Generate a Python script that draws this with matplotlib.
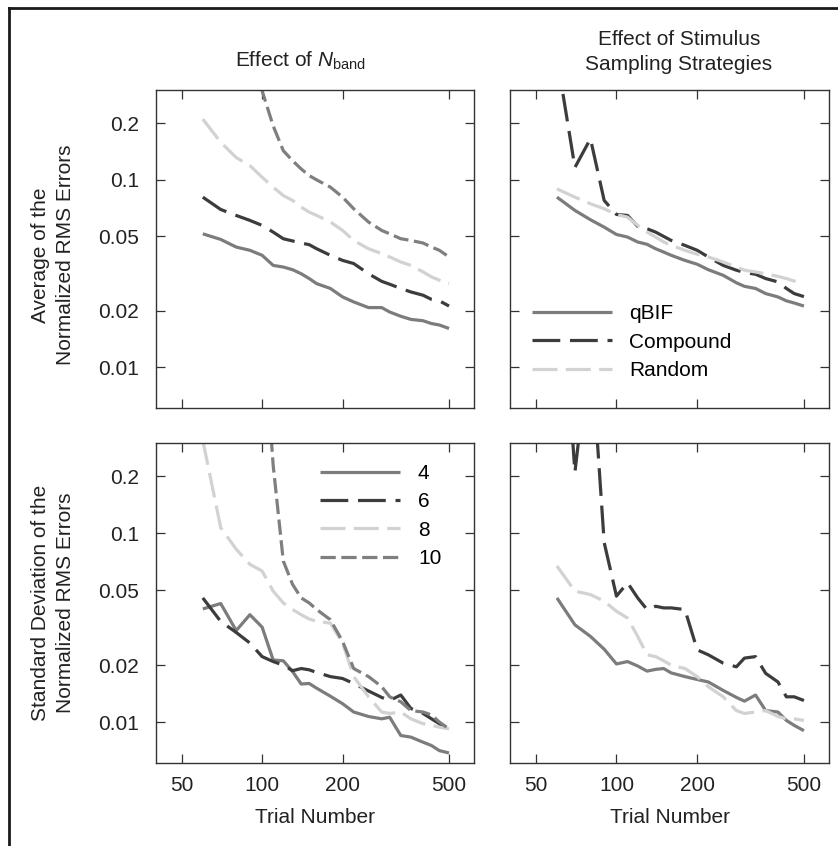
import numpy as np
import matplotlib
matplotlib.use("Agg")
import matplotlib.pyplot as plt
from matplotlib.lines import Line2D

plt.rcParams['font.family'] = ['Liberation Sans', 'DejaVu Sans']
plt.rcParams['mathtext.fontset'] = 'custom'
plt.rcParams['mathtext.rm'] = 'Liberation Sans'
plt.rcParams['mathtext.it'] = 'Liberation Sans:italic'
plt.rcParams['lines.scale_dashes'] = False

# data
trials = [60, 70, 80, 90, 100, 110, 120, 130, 140, 150, 160, 180, 200,
          220, 250, 280, 300, 330, 360, 400, 430, 460, 500]

# average of normalized RMS errors, effect of N_band
mean_4 = [0.0514, 0.0480, 0.0437, 0.0420, 0.0395, 0.0349, 0.0342, 0.0331, 0.0315, 0.0297, 0.0279, 0.0263,
          0.0237, 0.0223, 0.0208, 0.0208, 0.0197, 0.0187, 0.0180, 0.0177, 0.0171, 0.0168, 0.0161]
mean_6 = [0.0806, 0.0693, 0.0644, 0.0606, 0.0570, 0.0525, 0.0484, 0.0471, 0.0459, 0.0450, 0.0428, 0.0395,
          0.0371, 0.0357, 0.0315, 0.0287, 0.0277, 0.0263, 0.0252, 0.0242, 0.0230, 0.0226, 0.0212]
mean_8 = [0.210, 0.158, 0.131, 0.1187, 0.1029, 0.0911, 0.0822, 0.0774, 0.0713, 0.0671, 0.0644, 0.0594,
          0.0536, 0.0474, 0.0428, 0.0403, 0.0387, 0.0364, 0.0349, 0.0322, 0.0303, 0.0291, 0.0279]
mean_10 = [0.9, 0.65, 0.5, 0.38, 0.297, 0.193, 0.1426, 0.126, 0.1139, 0.1050, 0.0996, 0.0911,
           0.0806, 0.0699, 0.0594, 0.0536, 0.0514, 0.0484, 0.0474, 0.0459, 0.0437, 0.0420, 0.0387]

# average, sampling strategies
mean_qbif = [0.0806, 0.0685, 0.0611, 0.0558, 0.0510, 0.0494, 0.0465, 0.0452, 0.0428, 0.0411, 0.0395, 0.0371,
             0.0354, 0.0331, 0.0309, 0.0282, 0.0270, 0.0263, 0.0247, 0.0237, 0.0226, 0.0220, 0.0212]
mean_compound = [0.45, 0.116, 0.165, 0.0774, 0.0652, 0.0644, 0.0563, 0.0547, 0.0525, 0.0498, 0.0474, 0.0446,
                 0.0420, 0.0387, 0.0349, 0.0329, 0.0320, 0.0313, 0.0297, 0.0285, 0.0263, 0.0247, 0.0238]
mean_random = [0.0892, 0.0806, 0.0743, 0.0699, 0.0652, 0.0631, 0.0570, 0.0525, 0.0494, 0.0465, 0.0446, 0.0420,
               0.0400, 0.0387, 0.0364, 0.0342, 0.0329, 0.0322, 0.0315, 0.0305, 0.0297, 0.0288, 0.0282]

# standard deviation, effect of N_band
sd_4 = [0.0397, 0.0424, 0.0305, 0.0370, 0.0318, 0.0213, 0.0211, 0.0185, 0.0159, 0.0160, 0.0151, 0.0137,
        0.0125, 0.0113, 0.0107, 0.0104, 0.0106, 0.00849, 0.00832, 0.00782, 0.00751, 0.00706, 0.00686]
sd_6 = [0.0454, 0.0341, 0.0298, 0.0262, 0.0222, 0.0209, 0.0200, 0.0187, 0.0192, 0.0189, 0.0183, 0.0174,
        0.0170, 0.0160, 0.0146, 0.0135, 0.0130, 0.0139, 0.0118, 0.0111, 0.0104, 0.0098, 0.0090]
sd_8 = [0.31, 0.107, 0.0822, 0.0684, 0.0630, 0.0493, 0.0427, 0.0394, 0.0370, 0.0351, 0.0341, 0.0334,
        0.0262, 0.0174, 0.0136, 0.0113, 0.0111, 0.0113, 0.0104, 0.0098, 0.0096, 0.0094, 0.0092]
sd_10 = [3.0, 2.5, 2.0, 1.7, 1.5, 0.228, 0.0712, 0.0535, 0.0454, 0.0427, 0.0394, 0.0348,
         0.0267, 0.0192, 0.0174, 0.0154, 0.0136, 0.0128, 0.0115, 0.0113, 0.0109, 0.0100, 0.0092]

# standard deviation, sampling strategies
sd_qbif = [0.0454, 0.0327, 0.0284, 0.0243, 0.0203, 0.0209, 0.0198, 0.0186, 0.0190, 0.0192, 0.0182, 0.0174,
           0.0168, 0.0163, 0.0147, 0.0135, 0.0129, 0.0139, 0.0115, 0.0113, 0.0102, 0.0096, 0.0090]
sd_compound = [5.0, 0.21, 1.07, 0.0892, 0.0464, 0.0546, 0.0454, 0.0394, 0.0410, 0.0402, 0.0402, 0.0394,
               0.0241, 0.0227, 0.0205, 0.0196, 0.0218, 0.0222, 0.0181, 0.0163, 0.0136, 0.0136, 0.0130]
sd_random = [0.0670, 0.0493, 0.0473, 0.0436, 0.0386, 0.0355, 0.0284, 0.0227, 0.0222, 0.0211, 0.0200, 0.0192,
             0.0174, 0.0154, 0.0136, 0.0115, 0.0111, 0.0113, 0.0115, 0.0107, 0.0104, 0.0104, 0.0102]

band_labels = ['4', '6', '8', '10']
strategy_labels = ['qBIF', 'Compound', 'Random']
x_ticks = [50, 100, 200, 500]
y_ticks = [0.01, 0.02, 0.05, 0.1, 0.2]

# line styles: (color, dashes)
band_styles = [('#7c7c7c', None), ('#3c3c3c', (20, 7)), ('#d2d2d2', (18, 6)), ('#7f7f7f', (11, 4))]
strat_styles = [('#7c7c7c', None), ('#3c3c3c', (20, 7)), ('#d2d2d2', (18, 6))]

W, H = 838, 846
fig = plt.figure(figsize=(W / 100, H / 100), dpi=100)

def px_axes(left, top, right, bottom):
    return fig.add_axes([left / W, 1 - bottom / H, (right - left) / W, (bottom - top) / H])

ax_tl = px_axes(156, 90, 474, 408)
ax_tr = px_axes(510, 90, 829, 408)
ax_bl = px_axes(156, 443, 474, 763)
ax_br = px_axes(510, 443, 829, 763)

FS = 15
LW = 2.3

def draw(ax, series, styles, labels):
    handles = []
    for ys, (c, d), lab in zip(series, styles, labels):
        ln, = ax.plot(trials, ys, color=c, lw=LW, label=lab, solid_capstyle='butt')
        if d is not None:
            ln.set_dashes(d)
        handles.append(ln)
    return handles

def style(ax, xlabels, ylabels):
    ax.set_xscale('log')
    ax.set_yscale('log')
    ax.set_xlim(40.1, 620)
    ax.set_ylim(0.00607, 0.3)
    ax.set_xticks(x_ticks)
    ax.set_yticks(y_ticks)
    ax.minorticks_off()
    ax.set_xticklabels([str(t) for t in x_ticks] if xlabels else [])
    ax.set_yticklabels(['0.01', '0.02', '0.05', '0.1', '0.2'] if ylabels else [])
    ax.tick_params(which='both', direction='in', top=True, right=True, length=6.5, width=0.9,
                   color='#333333', labelsize=FS, labelcolor='#222222')
    ax.tick_params(axis='y', pad=12)
    ax.tick_params(axis='x', pad=9)
    for s in ax.spines.values():
        s.set_color('#333333')
        s.set_linewidth(1.0)

draw(ax_tl, [mean_4, mean_6, mean_8, mean_10], band_styles, band_labels)
draw(ax_tr, [mean_qbif, mean_compound, mean_random], strat_styles, strategy_labels)
draw(ax_bl, [sd_4, sd_6, sd_8, sd_10], band_styles, band_labels)
draw(ax_br, [sd_qbif, sd_compound, sd_random], strat_styles, strategy_labels)

style(ax_tl, False, True)
style(ax_tr, False, False)
style(ax_bl, True, True)
style(ax_br, True, False)

ax_tr.legend(loc='center left', bbox_to_anchor=(22 / 319, (408 - 342) / 318), frameon=False,
             fontsize=FS, handlelength=3.85, handletextpad=0.8, labelspacing=0.45,
             borderpad=0, borderaxespad=0)
ax_bl.legend(loc='center left', bbox_to_anchor=((320 - 156) / 318, (763 - 516) / 320), frameon=False,
             fontsize=FS, handlelength=3.85, handletextpad=0.85, labelspacing=0.45,
             borderpad=0, borderaxespad=0)

# titles, axis labels
fig.text(301 / W, 1 - 67 / H, r'Effect of $N_{\mathrm{band}}$', ha='center', va='baseline',
         fontsize=FS, color='#222222')
fig.text(679 / W, 1 - 74 / H, 'Effect of Stimulus\nSampling Strategies', ha='center', va='bottom',
         fontsize=FS, color='#222222', linespacing=1.4)
fig.text(53 / W, 1 - 255 / H, 'Average of the\nNormalized RMS Errors', rotation=90,
         ha='center', va='center', fontsize=FS, color='#222222', linespacing=1.35)
fig.text(53 / W, 1 - 603 / H, 'Standard Deviation of the\nNormalized RMS Errors', rotation=90,
         ha='center', va='center', fontsize=FS, color='#222222', linespacing=1.35)
fig.text(315 / W, 1 - 817 / H, 'Trial Number', ha='center', va='center', fontsize=FS, color='#222222')
fig.text(670 / W, 1 - 817 / H, 'Trial Number', ha='center', va='center', fontsize=FS, color='#222222')

# partial frame around the figure (top and left edges)
fig.add_artist(Line2D([9 / W, 1], [1 - 8 / H, 1 - 8 / H], color='#1a1a1a', lw=2.0))
fig.add_artist(Line2D([9 / W, 9 / W], [0, 1 - 8 / H], color='#1a1a1a', lw=2.0))

fig.savefig('out.png', dpi=100)
